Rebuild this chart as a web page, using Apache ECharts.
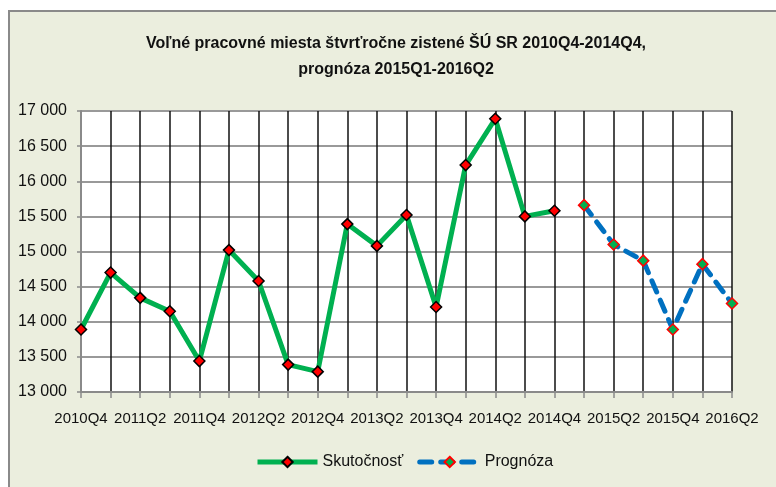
<!DOCTYPE html>
<html>
<head>
<meta charset="utf-8">
<script src="https://cdn.jsdelivr.net/npm/echarts@6/dist/echarts.min.js"></script>
<style>
  html, body { margin: 0; padding: 0; background: #fff; }
  #frame {
    position: absolute; left: 8px; top: 10px; width: 768px; height: 477px;
    background: #ebeede; border-left: 2px solid #8a8a8a; border-top: 2px solid #8a8a8a;
  }
  #chart { position: absolute; left: 0; top: 0; width: 776px; height: 487px; }
</style>
</head>
<body>
<div id="frame"></div>
<div id="chart"></div>
<script>
// stvrtroky 2010Q4 .. 2016Q2
var quarters = ['2010Q4', '2011Q1', '2011Q2', '2011Q3', '2011Q4', '2012Q1', '2012Q2', '2012Q3',
  '2012Q4', '2013Q1', '2013Q2', '2013Q3', '2013Q4', '2014Q1', '2014Q2', '2014Q3', '2014Q4',
  '2015Q1', '2015Q2', '2015Q3', '2015Q4', '2016Q1', '2016Q2'];
var skutocnost = [13890, 14700, 14340, 14150, 13440, 15020, 14580, 13390, 13290, 15390, 15080,
  15520, 14210, 16230, 16890, 15500, 15580, null, null, null, null, null, null];
var prognoza = [null, null, null, null, null, null, null, null, null, null, null, null, null,
  null, null, null, null, 15660, 15100, 14870, 13890, 14820, 14260];
var yMin = 13000, yMax = 17000, yStep = 500;

var font = "'Liberation Sans', Arial, sans-serif";

var chart = echarts.init(document.getElementById('chart'));
chart.setOption({
  backgroundColor: 'transparent',
  animation: false,
  textStyle: { fontFamily: font },
  title: {
    text: 'Voľné pracovné miesta štvrťročne zistené ŠÚ SR 2010Q4-2014Q4,\nprognóza 2015Q1-2016Q2',
    left: 391,
    top: 26,
    textAlign: 'center',
    textStyle: { fontFamily: font, fontSize: 16, fontWeight: 'bold', color: '#111', lineHeight: 26 }
  },
  legend: {
    bottom: 12,
    left: 250,
    itemWidth: 60,
    itemHeight: 13,
    itemGap: 14,
    textStyle: { fontFamily: font, fontSize: 16, color: '#111' },
    lineStyle: { width: 5 },
    data: ['Skutočnosť', 'Prognóza']
  },
  grid: {
    left: 81, right: 44, top: 111, bottom: 95,
    show: true, backgroundColor: '#fff', borderWidth: 0
  },
  xAxis: {
    type: 'category',
    data: quarters,
    boundaryGap: false,
    axisLine: { lineStyle: { color: '#8a8a8a', width: 2 } },
    axisTick: { interval: 0, length: 6, lineStyle: { color: '#8a8a8a', width: 1.5 } },
    axisLabel: {
      interval: 1, margin: 19, fontFamily: font, fontSize: 15, color: '#111',
      showMinLabel: true, showMaxLabel: true, hideOverlap: false
    },
    splitLine: { show: true, interval: 0, lineStyle: { color: '#111', width: 1.5 } }
  },
  yAxis: {
    type: 'value',
    min: yMin, max: yMax, interval: yStep,
    axisLine: { show: true, lineStyle: { color: '#8a8a8a', width: 2 } },
    axisTick: { show: true, length: 4, lineStyle: { color: '#8a8a8a', width: 1.5 } },
    axisLabel: {
      margin: 14, fontFamily: font, fontSize: 16, color: '#111',
      formatter: function (v) { return String(v).replace(/\B(?=(\d{3})+(?!\d))/g, ' '); }
    },
    splitLine: { lineStyle: { color: '#999', width: 2 } }
  },
  series: [
    {
      name: 'Skutočnosť',
      type: 'line',
      data: skutocnost,
      symbol: 'diamond',
      symbolSize: 11,
      lineStyle: { color: '#00b050', width: 5 },
      itemStyle: { color: '#ff0000', borderColor: '#000', borderWidth: 1.5 },
      z: 3
    },
    {
      name: 'Prognóza',
      type: 'line',
      data: prognoza,
      symbol: 'diamond',
      symbolSize: 11,
      lineStyle: { color: '#0070c0', width: 5, type: [12, 9], cap: 'round' },
      itemStyle: { color: '#00b050', borderColor: '#ff0000', borderWidth: 1.5 },
      z: 3
    }
  ]
});
</script>
</body>
</html>
